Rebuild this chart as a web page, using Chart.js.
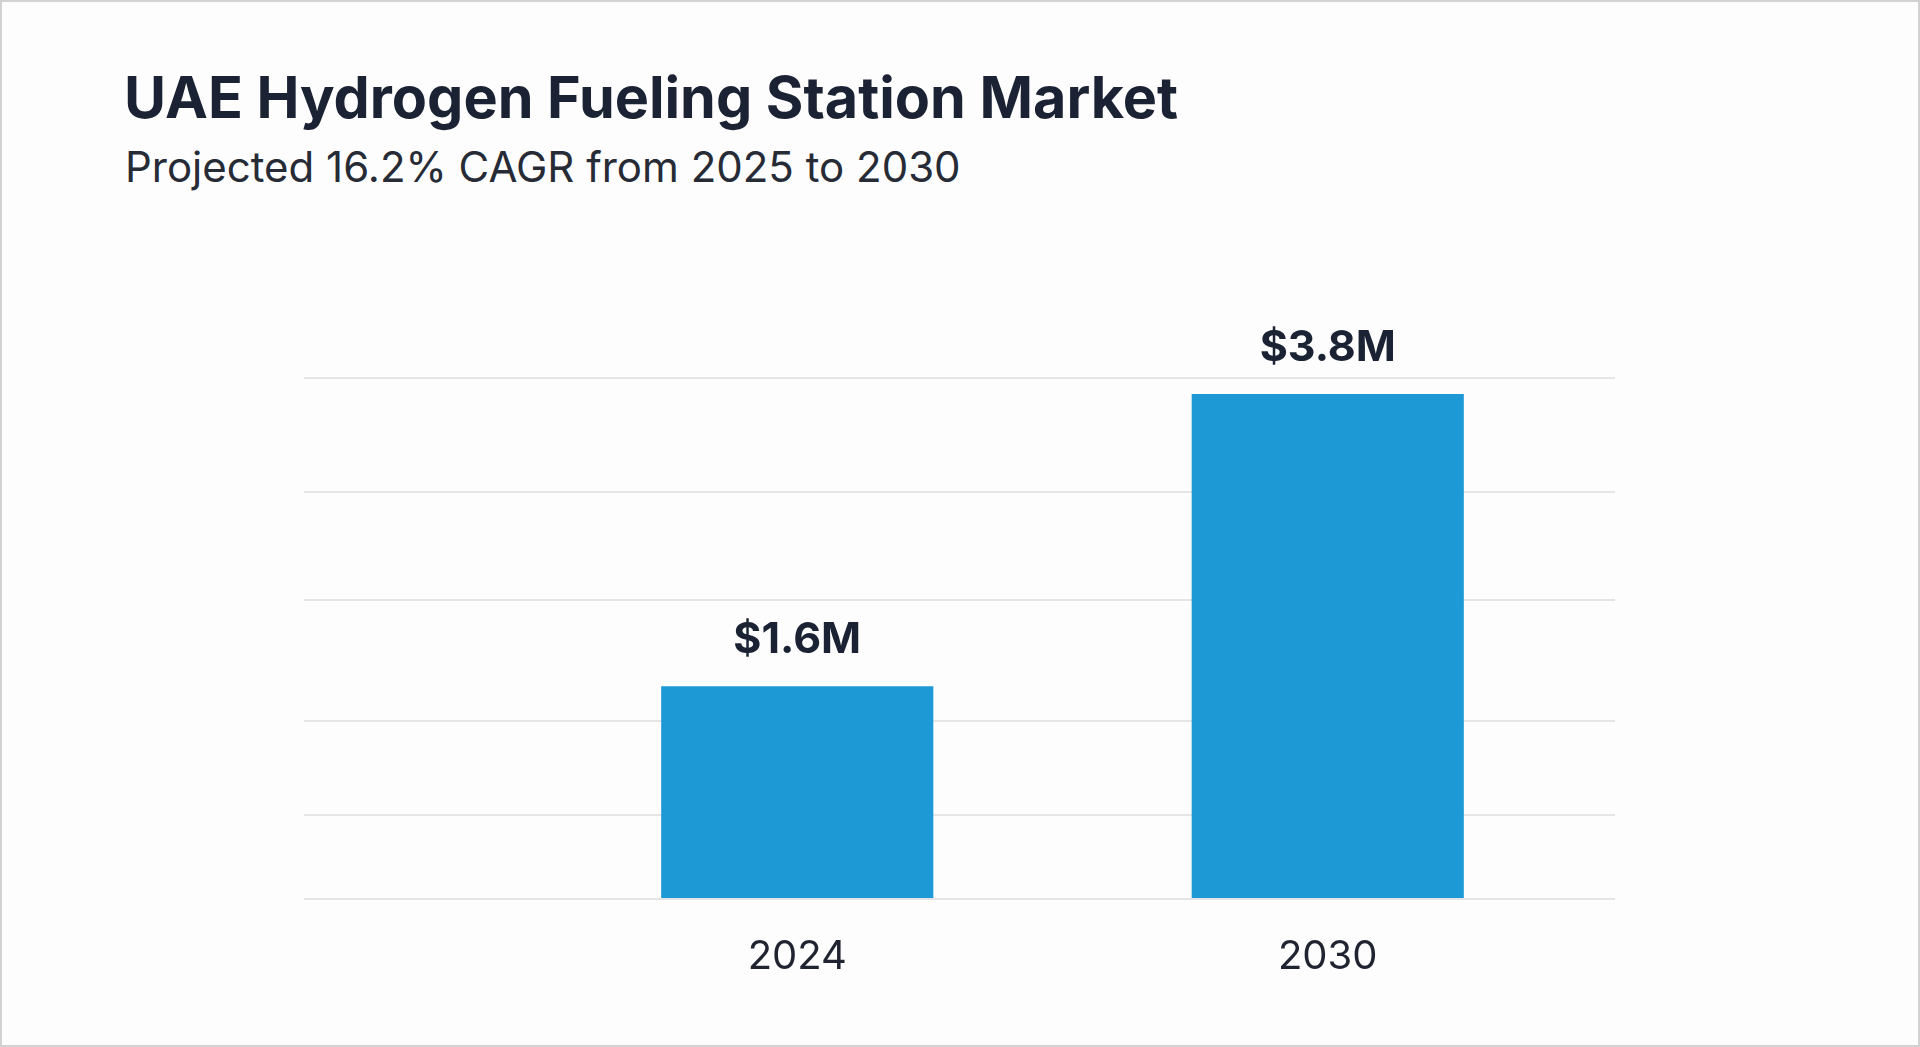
<!DOCTYPE html>
<html>
<head>
<meta charset="utf-8">
<script src="https://cdn.jsdelivr.net/npm/chart.js"></script>
<style>
    html, body {
        margin: 0;
        padding: 0;
        background-color: #fdfdfd;
    }
    .frame {
        position: relative;
        width: 1920px;
        height: 1047px;
        box-sizing: border-box;
        border: 2px solid #d2d2d2;
        background-color: #fdfdfd;
        overflow: hidden;
    }
    .title {
        position: absolute;
        left: 122px;
        top: 67px;
        font-family: Inter, "Noto Sans", sans-serif;
        font-weight: 700;
        font-size: 57.5px;
        line-height: 1;
        color: #1a2233;
        white-space: nowrap;
    }
    .subtitle {
        position: absolute;
        left: 123px;
        top: 144px;
        font-family: Inter, "Noto Sans", sans-serif;
        font-weight: 400;
        font-size: 42px;
        line-height: 1;
        color: #262b36;
        white-space: nowrap;
    }
    canvas {
        position: absolute;
        left: -2px;
        top: -2px;
    }
</style>
</head>
<body>
<div class="frame">
    <div class="title">UAE Hydrogen Fueling Station Market</div>
    <div class="subtitle">Projected 16.2% CAGR from 2025 to 2030</div>
    <canvas id="chart" width="1920" height="1047"></canvas>
</div>

<script>
    // values
    const years = ['2024', '2030'];
    const marketSize = [1.6, 3.8];          // USD million
    const valueLabels = ['$1.6M', '$3.8M'];
    const gridValues = [0, 0.63, 1.34, 2.25, 3.06, 3.92];   // where the faint guide lines sit

    const gridColor = '#e4e5e7';

    // draws the "$x.xM" text above every bar
    const barLabels = {
        id: 'barLabels',
        afterDatasetsDraw(chart) {
            const ctx = chart.ctx;
            const meta = chart.getDatasetMeta(0);
            ctx.save();
            ctx.font = '700 43px Inter, "Noto Sans", sans-serif';
            ctx.fillStyle = '#1a2233';
            ctx.textAlign = 'center';
            ctx.textBaseline = 'alphabetic';
            meta.data.forEach((bar, i) => {
                ctx.fillText(valueLabels[i], bar.x, bar.y - 33);
            });
            ctx.restore();
        }
    };

    const setGridTicks = scale => {
        scale.ticks = gridValues.map(v => ({ value: v }));
    };

    new Chart(document.getElementById('chart').getContext('2d'), {
        type: 'bar',
        data: {
            labels: years,
            datasets: [{
                data: marketSize,
                backgroundColor: '#1d9ad6',
                borderWidth: 0,
                categoryPercentage: 1,
                barPercentage: 0.513
            }]
        },
        options: {
            responsive: false,
            animation: false,
            layout: {
                padding: { left: 304, right: 305, top: 378, bottom: 32 }
            },
            plugins: {
                legend: { display: false },
                tooltip: { enabled: false }
            },
            scales: {
                x: {
                    grid: { display: false, drawTicks: false },
                    border: { display: false },
                    ticks: {
                        padding: 34,
                        color: '#1f2430',
                        font: { family: 'Inter, "Noto Sans", sans-serif', size: 40, weight: '400' }
                    }
                },
                y: {
                    min: 0,
                    max: 3.92,
                    afterBuildTicks: setGridTicks,
                    border: { display: false },
                    grid: { color: gridColor, lineWidth: 2, drawTicks: true, tickLength: 228 },
                    ticks: { display: false }
                },
                yRight: {
                    position: 'right',
                    min: 0,
                    max: 3.92,
                    afterBuildTicks: setGridTicks,
                    border: { display: false },
                    grid: { color: gridColor, lineWidth: 2, drawOnChartArea: false, drawTicks: true, tickLength: 22 },
                    ticks: { display: false }
                }
            }
        },
        plugins: [barLabels]
    });
</script>
</body>
</html>
